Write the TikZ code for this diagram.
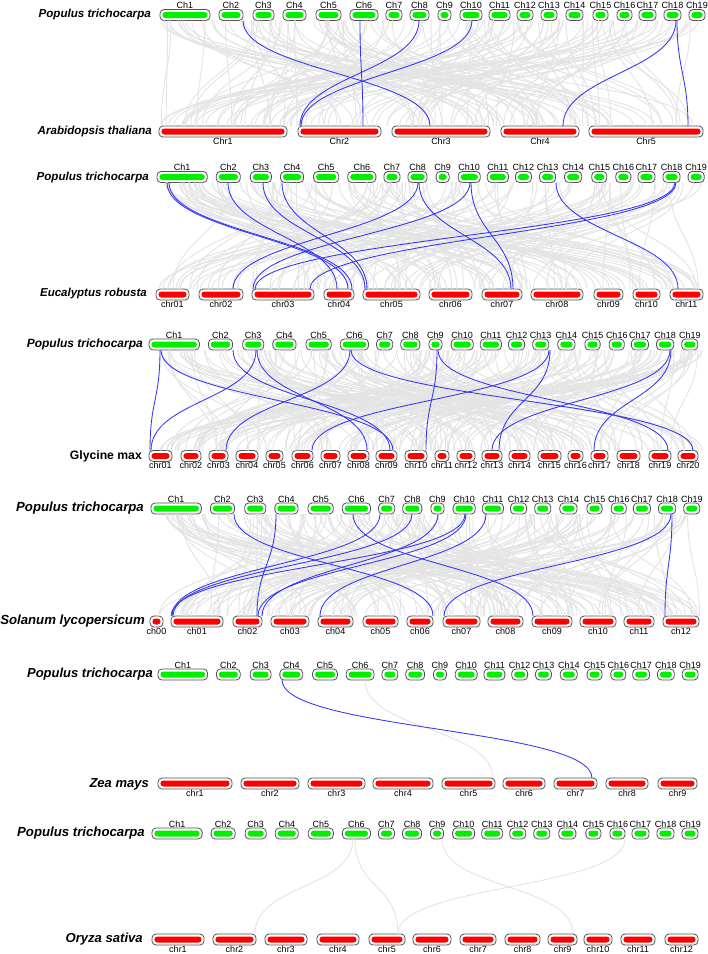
\documentclass[tikz,border=0pt]{standalone}
\usepackage{fontspec}
\setmainfont{Liberation Sans}
\usepackage{tikz}
\usetikzlibrary{calc}
\definecolor{popgreen}{HTML}{00F000}
\definecolor{othred}{HTML}{FF0000}
\definecolor{lnkblue}{HTML}{3434F4}
\definecolor{lnkgray}{HTML}{E4E4E4}
\tikzset{
  chrbox/.style={draw=black!68, line width=0.8pt, fill=white, rounded corners=4pt,
                 minimum height=11pt, inner sep=0pt, outer sep=0pt},
  chrpop/.style={chrbox, path picture={\fill[popgreen, rounded corners=3pt]
      ([shift={(2.4pt,-2.5pt)}]path picture bounding box.north west) rectangle
      ([shift={(-2.4pt,2.5pt)}]path picture bounding box.south east);}},
  chrred/.style={chrbox, path picture={\fill[othred, rounded corners=3pt]
      ([shift={(2.4pt,-2.5pt)}]path picture bounding box.north west) rectangle
      ([shift={(-2.4pt,2.5pt)}]path picture bounding box.south east);}},
  toplbl/.style={font=\fontsize{9}{10}\selectfont, inner sep=0.6pt},
  botlbl/.style={font=\fontsize{9}{10}\selectfont, inner sep=0.6pt},
  spname/.style={anchor=east, inner sep=0pt, font=\bfseries\itshape\fontsize{#1}{#1}\selectfont},
  spup/.style={anchor=east, inner sep=0pt, font=\bfseries\fontsize{#1}{#1}\selectfont},
  blink/.style={lnkblue, line width=0.85pt},
  glink/.style={lnkgray, line width=0.9pt},
}
% poplar row: panel, y, left x, scale
\newcommand\poprow[4]{%
  \foreach \a/\b [count=\i] in {160/210,219/243,253/274,283/306,316/341,350/378,386/402,
      410/429,438/451,460/482,489/510,517/533,541/557,566/583,593/608,617/632,639/656,
      664/681,689/705}{%
    \pgfmathsetmacro\xl{#3+#4*(\a-160)}%
    \pgfmathsetmacro\xr{#3+#4*(\b-160)}%
    \node[chrpop, minimum width={(\xr-\xl)*1pt}, label={[toplbl]above:Ch\i}]
      (#1t\i) at ({(\xl+\xr)/2},#2) {};
  }}
% second species row: panel, y, list name/left/right
\newcommand\othrow[3]{%
  \foreach \n/\a/\b [count=\i] in {#3}{%
    \node[chrred, minimum width={(\b-\a)*1pt}, label={[botlbl]below:\n}]
      (#1b\i) at ({(\a+\b)/2},#2) {};
  }}
% link: [style] top node, x, bottom node, x
\newcommand\lnk[5][blink]{%
  \draw[#1] (perpendicular cs: horizontal line through={(#2.south)}, vertical line through={(#3,0)})
    .. controls +(0,50) and +(0,-50) ..
    (perpendicular cs: horizontal line through={(#4.north)}, vertical line through={(#5,0)});}
% background gray links: panel, count, seed
\newcommand\graymesh[3]{%
  \pgfmathsetseed{#3}%
  \foreach \k in {1,...,#2}{%
    \pgfmathsetmacro\xa{161+543*rnd}%
    \pgfmathsetmacro\xb{158+544*rnd}%
    \lnk[glink]{#1t1}{\xa}{#1b1}{\xb}}}

\begin{document}
\begin{tikzpicture}[x=1pt,y=-1pt]
  \fill[white] (0,0) rectangle (708,954);
  \useasboundingbox (0,0) rectangle (708,954);

  % chromosome rows
  \poprow{p1}{15}{160}{1}
  \othrow{p1}{131.5}{Chr1/159/287,Chr2/298/381,Chr3/392/490,Chr4/501/579,Chr5/589/703}
  \poprow{p2}{177}{157}{1.004}
  \othrow{p2}{294.5}{chr01/156/189,chr02/199/243,chr03/252/314,chr04/324/354,chr05/363/420,
    chr06/429/472,chr07/482/522,chr08/531/583,chr09/594/623,chr10/633/660,chr11/670/703}
  \poprow{p3}{344.5}{149}{1.007}
  \othrow{p3}{456}{chr01/149/172,chr02/181/201,chr03/209/228,chr04/236/258,chr05/266/283,
    chr06/292/313,chr07/321/340,chr08/348/369,chr09/376/397,chr10/405/427,chr11/435/449,
    chr12/457/475,chr13/482/502,chr14/509/530,chr15/538/561,chr16/568/583,chr17/591/608,
    chr18/617/640,chr19/649/671,chr20/678/698}
  \poprow{p4}{508.5}{151}{1.007}
  \othrow{p4}{621.5}{ch00/150/163,ch01/171/223,ch02/233/262,ch03/271/309,ch04/318/353,
    ch05/363/398,ch06/407/433,ch07/443/480,ch08/488/523,ch09/532/572,ch10/580/616,
    ch11/624/654,ch12/663/699}
  \poprow{p5}{674.5}{158}{0.991}
  \othrow{p5}{783.5}{chr1/158/232,chr2/241/299,chr3/308/365,chr4/373/433,chr5/442/495,
    chr6/503/545,chr7/554/597,chr8/606/648,chr9/658/697}
  \poprow{p6}{833.5}{152}{1.002}
  \othrow{p6}{939.5}{chr1/152/204,chr2/213/256,chr3/265/307,chr4/317/359,chr5/369/405,
    chr6/413/451,chr7/460/496,chr8/505/540,chr9/548/577,chr10/584/612,chr11/621/655,
    chr12/665/698}

  % species names
  \node[spname=11.6] (p1top) at (151,14.5) {Populus trichocarpa};
  \node[spname=11.6] (p1bot) at (152,131) {Arabidopsis thaliana};
  \node[spname=11.6] (p2top) at (149,177) {Populus trichocarpa};
  \node[spname=11.5] (p2bot) at (147,294) {Eucalyptus robusta};
  \node[spname=12] (p3top) at (143,344) {Populus trichocarpa};
  \node[spup=12.2] (p3bot) at (142,456) {Glycine max};
  \node[spname=13.2] (p4top) at (144,508) {Populus trichocarpa};
  \node[spname=13.2] (p4bot) at (145,621) {Solanum lycopersicum};
  \node[spname=13] (p5top) at (153,674) {Populus trichocarpa};
  \node[spname=13] (p5bot) at (149,784) {Zea mays};
  \node[spname=13.2] (p6top) at (145,833) {Populus trichocarpa};
  \node[spname=13.1] (p6bot) at (143,939) {Oryza sativa};

  % gray collinear blocks
  \graymesh{p1}{150}{11}
  \graymesh{p2}{150}{23}
  \graymesh{p3}{190}{37}
  \graymesh{p4}{180}{41}
  \lnk[glink]{p5t6}{365}{p5b5}{493}
  \lnk[glink]{p6t6}{353}{p6b2}{255}
  \lnk[glink]{p6t6}{355}{p6b5}{398}
  \lnk[glink]{p6t9}{442}{p6b9}{573}
  \lnk[glink]{p6t16}{625}{p6b5}{398}

  % blue links, Arabidopsis
  \lnk{p1t2}{243}{p1b3}{430}
  \lnk{p1t6}{360}{p1b2}{363}
  \lnk{p1t8}{419}{p1b2}{300}
  \lnk{p1t10}{472}{p1b2}{301}
  \lnk{p1t18}{676}{p1b4}{563}
  \lnk{p1t18}{677}{p1b5}{688}
  % Eucalyptus
  \lnk{p2t1}{167}{p2b4}{348}
  \lnk{p2t1}{169}{p2b4}{352}
  \lnk{p2t2}{228}{p2b4}{337}
  \lnk{p2t3}{263}{p2b5}{365}
  \lnk{p2t4}{282}{p2b5}{367}
  \lnk{p2t8}{418}{p2b2}{233}
  \lnk{p2t8}{419}{p2b7}{511}
  \lnk{p2t10}{470}{p2b3}{253}
  \lnk{p2t10}{471}{p2b7}{513}
  \lnk{p2t13}{556}{p2b11}{678}
  \lnk{p2t18}{675}{p2b3}{255}
  \lnk{p2t18}{676}{p2b3}{310}
  % Glycine
  \lnk{p3t1}{160}{p3b1}{150}
  \lnk{p3t1}{161}{p3b9}{393}
  \lnk{p3t2}{233}{p3b9}{390}
  \lnk{p3t3}{256}{p3b1}{151}
  \lnk{p3t3}{257}{p3b8}{367}
  \lnk{p3t6}{350}{p3b3}{226}
  \lnk{p3t6}{351}{p3b20}{693}
  \lnk{p3t9}{437}{p3b10}{426}
  \lnk{p3t9}{438}{p3b19}{668}
  \lnk{p3t13}{549}{p3b6}{312}
  \lnk{p3t13}{550}{p3b13}{499}
  \lnk{p3t18}{670}{p3b13}{492}
  \lnk{p3t18}{671}{p3b17}{594}
  % Solanum
  \lnk{p4t2}{234}{p4b7}{433}
  \lnk{p4t4}{276}{p4b3}{257}
  \lnk{p4t6}{353}{p4b10}{533}
  \lnk{p4t7}{380}{p4b2}{172}
  \lnk{p4t8}{412}{p4b2}{173}
  \lnk{p4t9}{438}{p4b3}{262}
  \lnk{p4t10}{465}{p4b2}{171}
  \lnk{p4t10}{466}{p4b3}{258}
  \lnk{p4t11}{486}{p4b5}{320}
  \lnk{p4t18}{671}{p4b8}{444}
  \lnk{p4t18}{672}{p4b13}{665}
  % Zea
  \lnk{p5t4}{282}{p5b7}{592}

\end{tikzpicture}
\end{document}
